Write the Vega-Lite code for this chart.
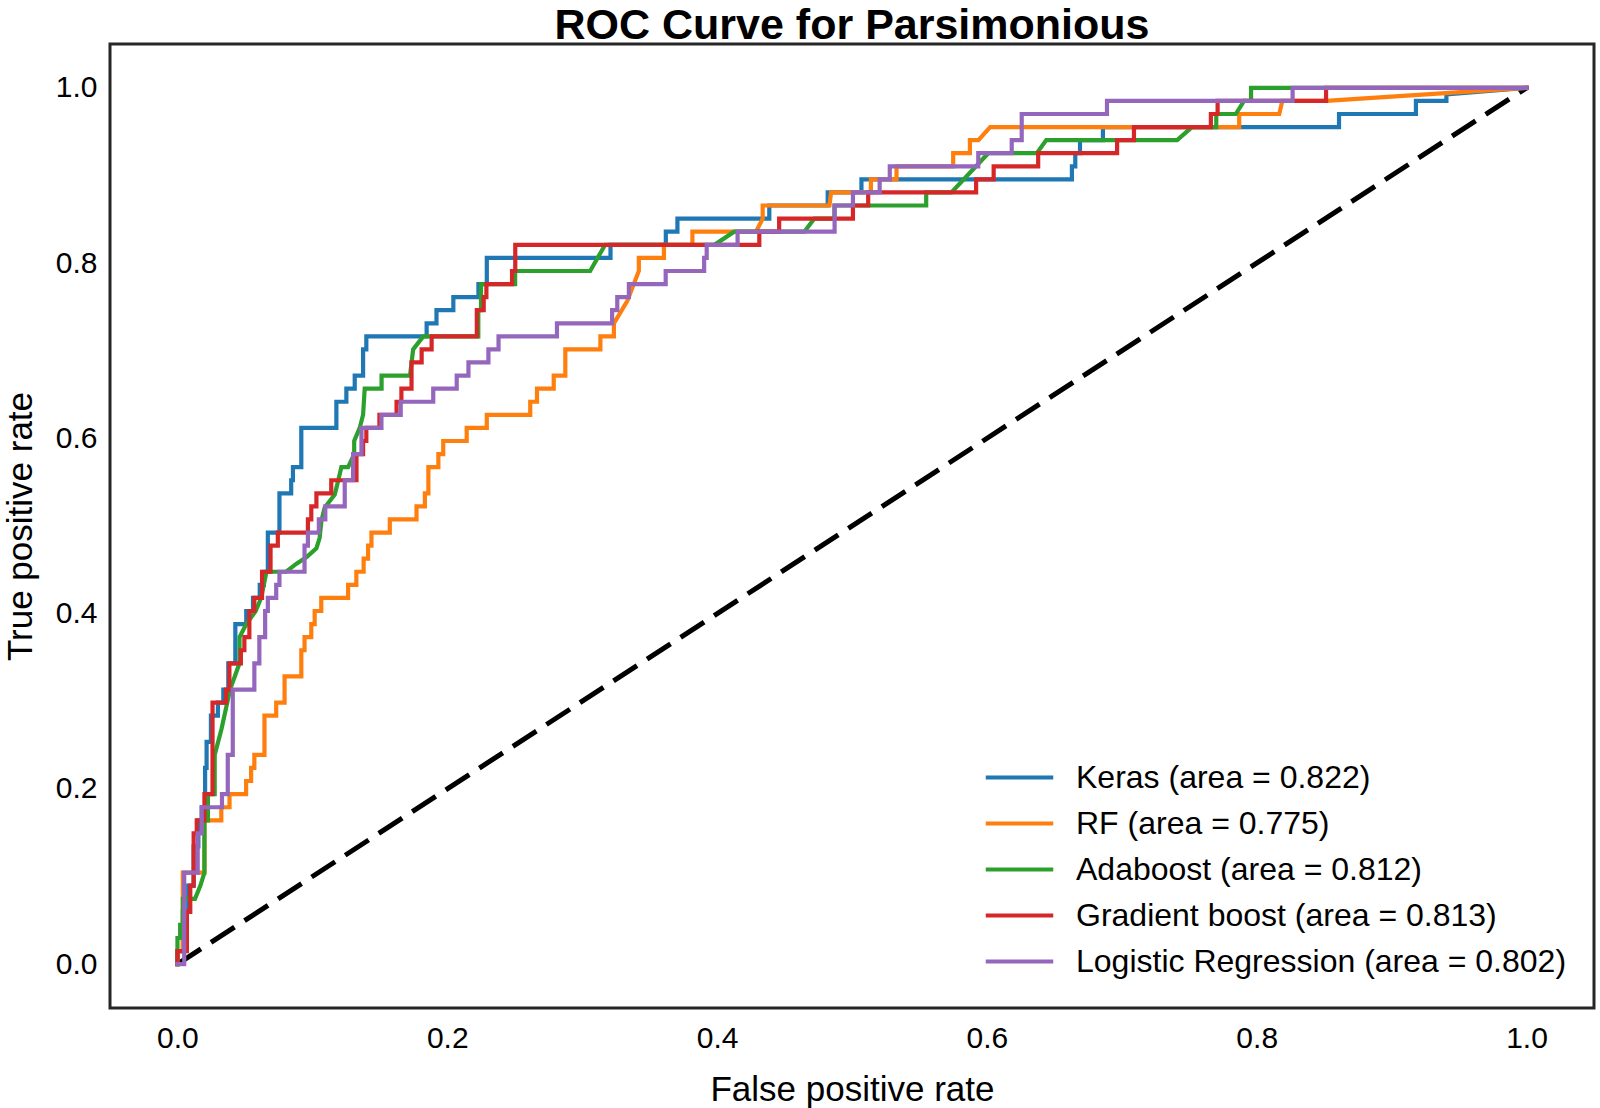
{
  "$schema": "https://vega.github.io/schema/vega-lite/v6.json",
  "width": 1484,
  "height": 964,
  "autosize": {"type": "none"},
  "padding": {"left": 110, "top": 44, "right": 6, "bottom": 100},
  "background": "white",
  "title": {"text": "ROC Curve for Parsimonious", "fontSize": 43, "fontWeight": "bold", "font": "Liberation Sans", "color": "black", "offset": 0, "baseline": "alphabetic", "anchor": "middle", "orient": "top", "frame": "group", "dy": 38},
  "config": {
    "view": {"stroke": "#262626", "strokeWidth": 3},
    "font": "Liberation Sans",
    "legend": {"orient": "none", "legendX": 885, "legendY": 709, "title": null, "labelFontSize": 32, "labelFont": "Liberation Sans", "labelColor": "black", "symbolType": "M-1.5,0H1.5", "symbolSize": 2025, "symbolStrokeWidth": 4, "labelOffset": 32, "rowPadding": 5, "padding": 0, "labelLimit": 800}
  },
  "datasets": {
    "diag": [{"x": 0, "y": 0}, {"x": 1, "y": 1}],
    "keras": [{"x":0,"y":0},{"x":0,"y":0.0149},{"x":0.004,"y":0.0149},{"x":0.004,"y":0.0597},{"x":0.008,"y":0.0597},{"x":0.008,"y":0.0896},{"x":0.012,"y":0.0896},{"x":0.012,"y":0.1343},{"x":0.0155,"y":0.1343},{"x":0.0155,"y":0.1642},{"x":0.018,"y":0.1642},{"x":0.018,"y":0.1791},{"x":0.0205,"y":0.1791},{"x":0.0205,"y":0.2239},{"x":0.0216,"y":0.2239},{"x":0.0216,"y":0.2537},{"x":0.0248,"y":0.2537},{"x":0.0248,"y":0.2836},{"x":0.03,"y":0.2836},{"x":0.03,"y":0.2985},{"x":0.034,"y":0.2985},{"x":0.034,"y":0.3134},{"x":0.0377,"y":0.3134},{"x":0.0377,"y":0.3433},{"x":0.0429,"y":0.3433},{"x":0.0429,"y":0.3881},{"x":0.051,"y":0.3881},{"x":0.051,"y":0.403},{"x":0.056,"y":0.403},{"x":0.056,"y":0.4179},{"x":0.061,"y":0.4179},{"x":0.061,"y":0.4328},{"x":0.064,"y":0.4328},{"x":0.064,"y":0.4478},{"x":0.067,"y":0.4478},{"x":0.067,"y":0.4925},{"x":0.0756,"y":0.4925},{"x":0.0756,"y":0.5373},{"x":0.0843,"y":0.5373},{"x":0.0843,"y":0.5522},{"x":0.0856,"y":0.5522},{"x":0.0856,"y":0.5672},{"x":0.0918,"y":0.5672},{"x":0.0918,"y":0.6119},{"x":0.1178,"y":0.6119},{"x":0.1178,"y":0.6418},{"x":0.1252,"y":0.6418},{"x":0.1252,"y":0.6567},{"x":0.1314,"y":0.6567},{"x":0.1314,"y":0.6716},{"x":0.1376,"y":0.6716},{"x":0.1376,"y":0.7015},{"x":0.14,"y":0.7015},{"x":0.14,"y":0.7164},{"x":0.1847,"y":0.7164},{"x":0.1847,"y":0.7313},{"x":0.192,"y":0.7313},{"x":0.192,"y":0.7463},{"x":0.2045,"y":0.7463},{"x":0.2045,"y":0.7612},{"x":0.2231,"y":0.7612},{"x":0.2231,"y":0.7761},{"x":0.2293,"y":0.7761},{"x":0.2293,"y":0.806},{"x":0.321,"y":0.806},{"x":0.321,"y":0.8209},{"x":0.362,"y":0.8209},{"x":0.362,"y":0.8358},{"x":0.3706,"y":0.8358},{"x":0.3706,"y":0.8507},{"x":0.4387,"y":0.8507},{"x":0.4387,"y":0.8657},{"x":0.482,"y":0.8657},{"x":0.482,"y":0.8806},{"x":0.507,"y":0.8806},{"x":0.507,"y":0.8955},{"x":0.663,"y":0.8955},{"x":0.663,"y":0.9104},{"x":0.6655,"y":0.9104},{"x":0.6655,"y":0.9254},{"x":0.669,"y":0.9254},{"x":0.669,"y":0.9403},{"x":0.686,"y":0.9403},{"x":0.686,"y":0.9552},{"x":0.861,"y":0.9552},{"x":0.861,"y":0.9701},{"x":0.918,"y":0.9701},{"x":0.918,"y":0.9851},{"x":0.9406,"y":0.9851},{"x":0.9406,"y":0.9925},{"x":1,"y":1}],
    "rf": [{"x":0,"y":0},{"x":0,"y":0.0149},{"x":0.004,"y":0.0149},{"x":0.004,"y":0.1045},{"x":0.02,"y":0.1045},{"x":0.02,"y":0.1642},{"x":0.0325,"y":0.1642},{"x":0.0325,"y":0.1791},{"x":0.0386,"y":0.1791},{"x":0.0386,"y":0.194},{"x":0.0509,"y":0.194},{"x":0.0509,"y":0.209},{"x":0.0546,"y":0.209},{"x":0.0546,"y":0.2239},{"x":0.057,"y":0.2239},{"x":0.057,"y":0.2388},{"x":0.0645,"y":0.2388},{"x":0.0645,"y":0.2836},{"x":0.0732,"y":0.2836},{"x":0.0732,"y":0.2985},{"x":0.0794,"y":0.2985},{"x":0.0794,"y":0.3284},{"x":0.0918,"y":0.3284},{"x":0.0918,"y":0.3582},{"x":0.0942,"y":0.3582},{"x":0.0942,"y":0.3731},{"x":0.0992,"y":0.3731},{"x":0.0992,"y":0.3881},{"x":0.1017,"y":0.3881},{"x":0.1017,"y":0.403},{"x":0.1066,"y":0.403},{"x":0.1066,"y":0.4179},{"x":0.1265,"y":0.4179},{"x":0.1265,"y":0.4328},{"x":0.1326,"y":0.4328},{"x":0.1326,"y":0.4478},{"x":0.138,"y":0.4478},{"x":0.138,"y":0.4627},{"x":0.1413,"y":0.4627},{"x":0.1413,"y":0.4776},{"x":0.1438,"y":0.4776},{"x":0.1438,"y":0.4925},{"x":0.1574,"y":0.4925},{"x":0.1574,"y":0.5075},{"x":0.1772,"y":0.5075},{"x":0.1772,"y":0.5224},{"x":0.1834,"y":0.5224},{"x":0.1834,"y":0.5373},{"x":0.186,"y":0.5373},{"x":0.186,"y":0.5672},{"x":0.1934,"y":0.5672},{"x":0.1934,"y":0.5821},{"x":0.197,"y":0.5821},{"x":0.197,"y":0.597},{"x":0.2144,"y":0.597},{"x":0.2144,"y":0.6119},{"x":0.2293,"y":0.6119},{"x":0.2293,"y":0.6269},{"x":0.2615,"y":0.6269},{"x":0.2615,"y":0.6418},{"x":0.2665,"y":0.6418},{"x":0.2665,"y":0.6567},{"x":0.2789,"y":0.6567},{"x":0.2789,"y":0.6716},{"x":0.2875,"y":0.6716},{"x":0.2875,"y":0.7015},{"x":0.3135,"y":0.7015},{"x":0.3135,"y":0.7164},{"x":0.3235,"y":0.7164},{"x":0.3235,"y":0.7313},{"x":0.3334,"y":0.7567},{"x":0.342,"y":0.791},{"x":0.342,"y":0.806},{"x":0.3606,"y":0.806},{"x":0.3606,"y":0.8209},{"x":0.3817,"y":0.8209},{"x":0.3817,"y":0.8358},{"x":0.4288,"y":0.8358},{"x":0.4338,"y":0.8507},{"x":0.4338,"y":0.8657},{"x":0.4833,"y":0.8657},{"x":0.4845,"y":0.8806},{"x":0.514,"y":0.8806},{"x":0.514,"y":0.8955},{"x":0.533,"y":0.8955},{"x":0.533,"y":0.9104},{"x":0.575,"y":0.9104},{"x":0.575,"y":0.9254},{"x":0.5874,"y":0.9254},{"x":0.5874,"y":0.9403},{"x":0.5937,"y":0.9403},{"x":0.6024,"y":0.9552},{"x":0.787,"y":0.9552},{"x":0.787,"y":0.9701},{"x":0.8167,"y":0.9701},{"x":0.819,"y":0.9851},{"x":0.8514,"y":0.9851},{"x":1,"y":1}],
    "ada": [{"x":0,"y":0},{"x":0,"y":0.0299},{"x":0.002,"y":0.0299},{"x":0.002,"y":0.0448},{"x":0.004,"y":0.0448},{"x":0.004,"y":0.0746},{"x":0.013,"y":0.0746},{"x":0.017,"y":0.0896},{"x":0.02,"y":0.1045},{"x":0.02,"y":0.1642},{"x":0.0226,"y":0.1642},{"x":0.0226,"y":0.194},{"x":0.0276,"y":0.194},{"x":0.0276,"y":0.2388},{"x":0.0327,"y":0.2687},{"x":0.039,"y":0.3134},{"x":0.046,"y":0.3433},{"x":0.046,"y":0.3731},{"x":0.051,"y":0.3881},{"x":0.058,"y":0.403},{"x":0.062,"y":0.4179},{"x":0.066,"y":0.4478},{"x":0.0806,"y":0.4478},{"x":0.088,"y":0.4567},{"x":0.0955,"y":0.4642},{"x":0.103,"y":0.4746},{"x":0.1054,"y":0.4866},{"x":0.1067,"y":0.506},{"x":0.1091,"y":0.5209},{"x":0.1166,"y":0.5358},{"x":0.119,"y":0.5507},{"x":0.1215,"y":0.5672},{"x":0.1265,"y":0.5672},{"x":0.131,"y":0.5821},{"x":0.131,"y":0.597},{"x":0.1351,"y":0.6119},{"x":0.1376,"y":0.6269},{"x":0.1388,"y":0.6567},{"x":0.1513,"y":0.6567},{"x":0.1513,"y":0.6716},{"x":0.1724,"y":0.6716},{"x":0.1747,"y":0.7015},{"x":0.1822,"y":0.7164},{"x":0.223,"y":0.7164},{"x":0.223,"y":0.7463},{"x":0.225,"y":0.7463},{"x":0.225,"y":0.7761},{"x":0.2503,"y":0.7761},{"x":0.2503,"y":0.791},{"x":0.3059,"y":0.791},{"x":0.317,"y":0.8209},{"x":0.398,"y":0.8209},{"x":0.4127,"y":0.8358},{"x":0.4647,"y":0.8358},{"x":0.472,"y":0.8507},{"x":0.487,"y":0.8507},{"x":0.487,"y":0.8657},{"x":0.555,"y":0.8657},{"x":0.555,"y":0.8806},{"x":0.5737,"y":0.8806},{"x":0.601,"y":0.9254},{"x":0.637,"y":0.9254},{"x":0.644,"y":0.9403},{"x":0.741,"y":0.9403},{"x":0.752,"y":0.9552},{"x":0.77,"y":0.9552},{"x":0.77,"y":0.9701},{"x":0.7845,"y":0.9701},{"x":0.7906,"y":0.9851},{"x":0.7958,"y":0.9851},{"x":0.7958,"y":1},{"x":1,"y":1}],
    "gb": [{"x":0,"y":0},{"x":0,"y":0.0149},{"x":0.007,"y":0.0149},{"x":0.007,"y":0.0597},{"x":0.0095,"y":0.0597},{"x":0.0095,"y":0.0896},{"x":0.012,"y":0.0896},{"x":0.012,"y":0.1493},{"x":0.0143,"y":0.1493},{"x":0.0143,"y":0.1642},{"x":0.02,"y":0.1642},{"x":0.02,"y":0.194},{"x":0.026,"y":0.194},{"x":0.026,"y":0.2985},{"x":0.036,"y":0.2985},{"x":0.036,"y":0.3134},{"x":0.0385,"y":0.3134},{"x":0.0385,"y":0.3433},{"x":0.047,"y":0.3433},{"x":0.047,"y":0.3582},{"x":0.0496,"y":0.3582},{"x":0.0496,"y":0.3731},{"x":0.0533,"y":0.3731},{"x":0.0533,"y":0.403},{"x":0.057,"y":0.403},{"x":0.057,"y":0.4179},{"x":0.0627,"y":0.4179},{"x":0.0627,"y":0.4478},{"x":0.069,"y":0.4478},{"x":0.069,"y":0.4776},{"x":0.0744,"y":0.4776},{"x":0.0744,"y":0.4925},{"x":0.0967,"y":0.4925},{"x":0.0967,"y":0.5075},{"x":0.0992,"y":0.5075},{"x":0.0992,"y":0.5224},{"x":0.103,"y":0.5224},{"x":0.103,"y":0.5373},{"x":0.114,"y":0.5373},{"x":0.114,"y":0.5522},{"x":0.1327,"y":0.5522},{"x":0.1327,"y":0.5821},{"x":0.1376,"y":0.5821},{"x":0.1376,"y":0.597},{"x":0.14,"y":0.597},{"x":0.14,"y":0.6119},{"x":0.1497,"y":0.6119},{"x":0.1497,"y":0.6269},{"x":0.1624,"y":0.6269},{"x":0.1624,"y":0.6418},{"x":0.166,"y":0.6418},{"x":0.166,"y":0.6567},{"x":0.1735,"y":0.6567},{"x":0.1735,"y":0.6866},{"x":0.181,"y":0.6866},{"x":0.181,"y":0.7015},{"x":0.1884,"y":0.7015},{"x":0.1884,"y":0.7164},{"x":0.2219,"y":0.7164},{"x":0.2219,"y":0.7463},{"x":0.227,"y":0.7463},{"x":0.227,"y":0.7612},{"x":0.229,"y":0.7612},{"x":0.229,"y":0.7761},{"x":0.248,"y":0.7761},{"x":0.248,"y":0.791},{"x":0.2504,"y":0.791},{"x":0.2504,"y":0.8209},{"x":0.4313,"y":0.8209},{"x":0.4313,"y":0.8358},{"x":0.446,"y":0.8358},{"x":0.446,"y":0.8507},{"x":0.5007,"y":0.8507},{"x":0.5007,"y":0.8657},{"x":0.512,"y":0.8657},{"x":0.512,"y":0.8806},{"x":0.592,"y":0.8806},{"x":0.592,"y":0.8955},{"x":0.605,"y":0.8955},{"x":0.605,"y":0.9104},{"x":0.638,"y":0.9104},{"x":0.638,"y":0.9254},{"x":0.6965,"y":0.9254},{"x":0.6965,"y":0.9403},{"x":0.709,"y":0.9403},{"x":0.709,"y":0.9552},{"x":0.766,"y":0.9552},{"x":0.766,"y":0.9701},{"x":0.771,"y":0.9701},{"x":0.771,"y":0.9851},{"x":0.8514,"y":0.9851},{"x":0.8514,"y":1},{"x":1,"y":1}],
    "lr": [{"x":0,"y":0},{"x":0.005,"y":0},{"x":0.005,"y":0.1045},{"x":0.015,"y":0.1045},{"x":0.015,"y":0.1493},{"x":0.018,"y":0.1493},{"x":0.018,"y":0.1791},{"x":0.033,"y":0.1791},{"x":0.033,"y":0.194},{"x":0.0373,"y":0.194},{"x":0.0373,"y":0.2388},{"x":0.041,"y":0.2388},{"x":0.041,"y":0.3134},{"x":0.057,"y":0.3134},{"x":0.057,"y":0.3433},{"x":0.0607,"y":0.3433},{"x":0.0607,"y":0.3731},{"x":0.065,"y":0.3731},{"x":0.065,"y":0.403},{"x":0.067,"y":0.403},{"x":0.067,"y":0.4179},{"x":0.0732,"y":0.4179},{"x":0.0732,"y":0.4328},{"x":0.0756,"y":0.4328},{"x":0.0756,"y":0.4478},{"x":0.0942,"y":0.4478},{"x":0.0942,"y":0.4776},{"x":0.0967,"y":0.4776},{"x":0.0967,"y":0.4925},{"x":0.1048,"y":0.4925},{"x":0.1048,"y":0.5075},{"x":0.1096,"y":0.5075},{"x":0.1096,"y":0.5224},{"x":0.124,"y":0.5224},{"x":0.124,"y":0.5522},{"x":0.1302,"y":0.5522},{"x":0.1302,"y":0.5821},{"x":0.1364,"y":0.5821},{"x":0.1364,"y":0.6119},{"x":0.1512,"y":0.6119},{"x":0.1512,"y":0.6269},{"x":0.1655,"y":0.6269},{"x":0.1655,"y":0.6418},{"x":0.1896,"y":0.6418},{"x":0.1896,"y":0.6567},{"x":0.207,"y":0.6567},{"x":0.207,"y":0.6716},{"x":0.2157,"y":0.6716},{"x":0.2157,"y":0.6866},{"x":0.2305,"y":0.6866},{"x":0.2305,"y":0.7015},{"x":0.238,"y":0.7015},{"x":0.238,"y":0.7164},{"x":0.2813,"y":0.7164},{"x":0.2813,"y":0.7313},{"x":0.3222,"y":0.7313},{"x":0.3222,"y":0.7463},{"x":0.326,"y":0.7463},{"x":0.326,"y":0.7612},{"x":0.3346,"y":0.7612},{"x":0.3346,"y":0.7761},{"x":0.3619,"y":0.7761},{"x":0.3619,"y":0.791},{"x":0.3904,"y":0.791},{"x":0.3904,"y":0.806},{"x":0.3923,"y":0.806},{"x":0.3923,"y":0.8209},{"x":0.4152,"y":0.8209},{"x":0.4152,"y":0.8358},{"x":0.4871,"y":0.8358},{"x":0.4871,"y":0.8657},{"x":0.5007,"y":0.8657},{"x":0.5007,"y":0.8806},{"x":0.5205,"y":0.8806},{"x":0.5205,"y":0.8955},{"x":0.528,"y":0.8955},{"x":0.528,"y":0.9104},{"x":0.5936,"y":0.9104},{"x":0.5936,"y":0.9254},{"x":0.6184,"y":0.9254},{"x":0.6184,"y":0.9403},{"x":0.6258,"y":0.9403},{"x":0.6258,"y":0.9701},{"x":0.689,"y":0.9701},{"x":0.689,"y":0.9851},{"x":0.8266,"y":0.9851},{"x":0.8266,"y":1},{"x":1,"y":1}]
  },
  "encoding": {
    "x": {"field": "x", "type": "quantitative", "scale": {"domain": [-0.05, 1.05], "nice": false, "zero": false},
      "axis": {"title": "False positive rate", "values": [0, 0.2, 0.4, 0.6, 0.8, 1.0], "format": ".1f", "grid": false, "ticks": false, "tickSize": 0, "domain": false, "labelFontSize": 30, "labelPadding": 15, "labelColor": "black", "labelFont": "Liberation Sans", "titleFontSize": 35, "titleFontWeight": "normal", "titleColor": "black", "titleFont": "Liberation Sans", "titleY": 92, "titleBaseline": "alphabetic"}},
    "y": {"field": "y", "type": "quantitative", "scale": {"domain": [-0.05, 1.05], "nice": false, "zero": false},
      "axis": {"title": "True positive rate", "values": [0, 0.2, 0.4, 0.6, 0.8, 1.0], "format": ".1f", "grid": false, "ticks": false, "tickSize": 0, "domain": false, "labelFontSize": 30, "labelPadding": 13, "labelColor": "black", "labelFont": "Liberation Sans", "titleFontSize": 35, "titleFontWeight": "normal", "titleColor": "black", "titleFont": "Liberation Sans", "titleX": -90, "titleY": 482, "titleAngle": -90, "titleAlign": "center", "titleBaseline": "middle"}}
  },
  "layer": [
    {"data": {"name": "diag"}, "mark": {"type": "line", "color": "black", "strokeWidth": 5, "strokeDash": [28, 12], "strokeCap": "butt"}, "encoding": {}},
    {"data": {"name": "keras"}, "mark": {"type": "line", "strokeWidth": 4.2, "strokeCap": "square", "strokeJoin": "miter"},
      "encoding": {"order": {"value": null}, "color": {"datum": "Keras (area = 0.822)", "type": "nominal",
        "scale": {"domain": ["Keras (area = 0.822)", "RF (area = 0.775)", "Adaboost (area = 0.812)", "Gradient boost (area = 0.813)", "Logistic Regression (area = 0.802)"], "range": ["#1f77b4", "#ff7f0e", "#2ca02c", "#d62728", "#9467bd"]}}}},
    {"data": {"name": "rf"}, "mark": {"type": "line", "strokeWidth": 4.2, "strokeCap": "square", "strokeJoin": "miter"},
      "encoding": {"order": {"value": null}, "color": {"datum": "RF (area = 0.775)", "type": "nominal"}}},
    {"data": {"name": "ada"}, "mark": {"type": "line", "strokeWidth": 4.2, "strokeCap": "square", "strokeJoin": "miter"},
      "encoding": {"order": {"value": null}, "color": {"datum": "Adaboost (area = 0.812)", "type": "nominal"}}},
    {"data": {"name": "gb"}, "mark": {"type": "line", "strokeWidth": 4.2, "strokeCap": "square", "strokeJoin": "miter"},
      "encoding": {"order": {"value": null}, "color": {"datum": "Gradient boost (area = 0.813)", "type": "nominal"}}},
    {"data": {"name": "lr"}, "mark": {"type": "line", "strokeWidth": 4.2, "strokeCap": "square", "strokeJoin": "miter"},
      "encoding": {"order": {"value": null}, "color": {"datum": "Logistic Regression (area = 0.802)", "type": "nominal"}}}
  ]
}
